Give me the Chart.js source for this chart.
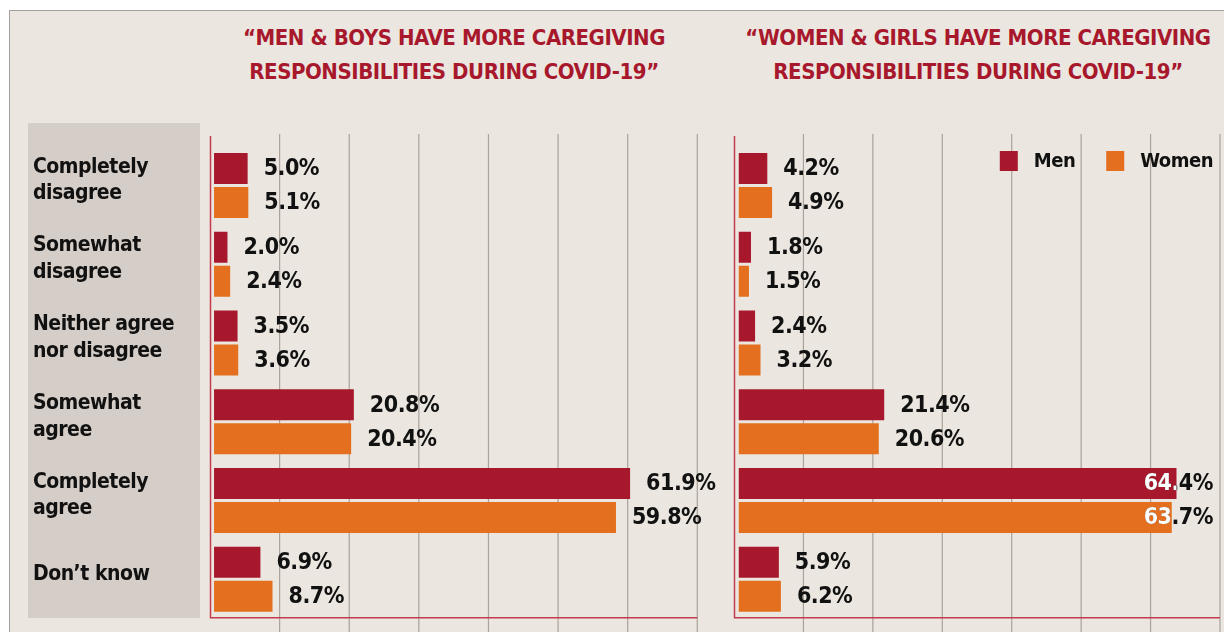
<!DOCTYPE html>
<html><head><meta charset="utf-8">
<script src="https://cdn.jsdelivr.net/npm/chart.js@4.4.0/dist/chart.umd.min.js"></script>
<style>
html,body{margin:0;padding:0;background:#fff;width:1224px;height:632px;overflow:hidden;position:relative}
#frame{position:absolute;left:9px;top:10px;width:1240px;height:640px;background:#ebe6e0;border-left:1px solid #a3a09d;border-top:1px solid #a3a09d;}
#panel{position:absolute;left:28px;top:123px;width:172px;height:495px;background:#d5cdc7;}
.title{position:absolute;top:21px;width:560px;text-align:center;font-weight:bold;font-size:22px;letter-spacing:-0.45px;font-family:"Liberation Sans Narrow","DejaVu Sans Condensed",sans-serif;color:#a8182c;line-height:34px;white-space:nowrap}
#t1{left:174px}
#t2{left:698px}
canvas{position:absolute;top:0}
#c1{left:0}
#c2{left:720px}
</style></head>
<body>
<div id="frame"></div>
<div id="panel"></div>
<div class="title" id="t1"></div>
<div class="title" id="t2"></div>
<canvas id="c1" width="720" height="632"></canvas>
<canvas id="c2" width="504" height="632"></canvas>
<script>
const categories = [["Completely","disagree"],["Somewhat","disagree"],["Neither agree","nor disagree"],["Somewhat","agree"],["Completely","agree"],["Don’t know"]];
const seriesNames = ["Men","Women"];
const seriesColors = ["#a8182c","#e36f1f"];
const leftTitle = ["“MEN & BOYS HAVE MORE CAREGIVING","RESPONSIBILITIES DURING COVID-19”"];
const rightTitle = ["“WOMEN & GIRLS HAVE MORE CAREGIVING","RESPONSIBILITIES DURING COVID-19”"];
const menBoysMen = [5.0, 2.0, 3.5, 20.8, 61.9, 6.9];
const menBoysWomen = [5.1, 2.4, 3.6, 20.4, 59.8, 8.7];
const womenGirlsMen = [4.2, 1.8, 2.4, 21.4, 64.4, 5.9];
const womenGirlsWomen = [4.9, 1.5, 3.2, 20.6, 63.7, 6.2];

document.getElementById('t1').innerHTML = leftTitle.join('<br>');
document.getElementById('t2').innerHTML = rightTitle.join('<br>');

const FONT = '"Liberation Sans Narrow","DejaVu Sans Condensed",sans-serif';
Chart.defaults.font.family = FONT;

const decor = {
  id: 'decor',
  beforeDraw(chart) {
    chart.ctx.letterSpacing = '-0.5px';
  },
  beforeDatasetsDraw(chart, args, opts) {
    const ctx = chart.ctx, xs = chart.scales.x, ca = chart.chartArea;
    ctx.save();
    ctx.strokeStyle = '#aaa29b';
    ctx.lineWidth = 1.2;
    const n = opts.gridCount;
    for (let k = 1; k <= n; k++) {
      const v = xs.min + (xs.max - xs.min) * k / n;
      const px = xs.getPixelForValue(v);
      ctx.beginPath(); ctx.moveTo(px, opts.gridTop); ctx.lineTo(px, chart.height); ctx.stroke();
    }
    ctx.strokeStyle = '#c43b4b';
    ctx.lineWidth = 1.5;
    const x0 = xs.getPixelForValue(xs.min) + 0.5;
    const x1 = xs.getPixelForValue(xs.max);
    ctx.beginPath();
    ctx.moveTo(x0, opts.frameTop);
    ctx.lineTo(x0, ca.bottom - 1);
    ctx.lineTo(x1, ca.bottom - 1);
    ctx.stroke();
    ctx.restore();
  },
  afterDatasetsDraw(chart, args, opts) {
    const ctx = chart.ctx, ca = chart.chartArea;
    ctx.save();
    ctx.letterSpacing = '-0.5px';
    ctx.font = 'bold 23px ' + FONT;
    ctx.textBaseline = 'middle';
    chart.data.datasets.forEach((ds, di) => {
      const meta = chart.getDatasetMeta(di);
      meta.data.forEach((bar, i) => {
        const txt = ds.data[i].toFixed(1) + '%';
        const w = ctx.measureText(txt).width;
        let x = bar.x + opts.gap;
        if (opts.limit && x + w > ca.right - opts.limit) x = ca.right - opts.limit - w;
        const y = bar.y + 1;
        ctx.fillStyle = '#111';
        ctx.fillText(txt, x, y);
        if (x < bar.x) {
          ctx.save();
          ctx.beginPath();
          ctx.rect(bar.base, bar.y - bar.height / 2, bar.x - bar.base, bar.height);
          ctx.clip();
          ctx.fillStyle = '#fff';
          ctx.fillText(txt, x, y);
          ctx.restore();
        }
      });
    });
    if (opts.legend) {
      ctx.font = 'bold 20px ' + FONT;
      const items = chart.data.datasets.map(d => ({label: d.label, color: d.backgroundColor, w: ctx.measureText(d.label).width}));
      const box = 18, boxGap = 16, itemGap = 31;
      let total = 0;
      items.forEach((it, i) => { total += box + boxGap + it.w + (i ? itemGap : 0); });
      let x = ca.right - 7 - total;
      const cy = 161;
      items.forEach((it, i) => {
        if (i) x += itemGap;
        ctx.fillStyle = it.color;
        ctx.fillRect(x, cy - 10, box, 20);
        x += box + boxGap;
        ctx.fillStyle = '#111';
        ctx.textAlign = 'left';
        ctx.fillText(it.label, x, cy + 1);
        x += it.w;
      });
    }
    ctx.restore();
  }
};

function makeChart(id, menData, womenData, opts) {
  return new Chart(document.getElementById(id), {
    type: 'bar',
    data: {
      labels: categories,
      datasets: [
        {label: seriesNames[0], data: menData, backgroundColor: seriesColors[0], categoryPercentage: 0.863, barPercentage: 0.912},
        {label: seriesNames[1], data: womenData, backgroundColor: seriesColors[1], categoryPercentage: 0.863, barPercentage: 0.912}
      ]
    },
    options: {
      indexAxis: 'y',
      responsive: false,
      animation: false,
      devicePixelRatio: 1,
      layout: {padding: opts.padding},
      scales: {
        x: {display: false, min: opts.min, max: opts.max},
        y: opts.showLabels ? {
          position: 'left',
          grid: {display: false},
          border: {display: false},
          ticks: {crossAlign: 'far', color: '#111', padding: 0, labelOffset: -5,
                  font: {family: FONT, size: 21, weight: 'bold', lineHeight: 1.27}},
          afterFit(s) { s.width = 177; s.paddingTop = 0; s.paddingBottom = 0; }
        } : {display: false}
      },
      plugins: {
        legend: {display: false},
        tooltip: {enabled: false},
        decor: {gridCount: 7, gridTop: 134, frameTop: 136, gap: 16, limit: opts.limit, legend: opts.legend}
      }
    },
    plugins: [decor]
  });
}

makeChart('c1', menBoysMen, menBoysWomen, {
  padding: {left: 33, top: 146, right: 22.7, bottom: 13.3},
  min: -0.6, max: 71.9, showLabels: true, limit: 0, legend: false
});
makeChart('c2', womenGirlsMen, womenGirlsWomen, {
  padding: {left: 14, top: 146, right: 4, bottom: 13.3},
  min: -0.7, max: 70.8, showLabels: false, limit: 7, legend: true
});
</script>
</body></html>
